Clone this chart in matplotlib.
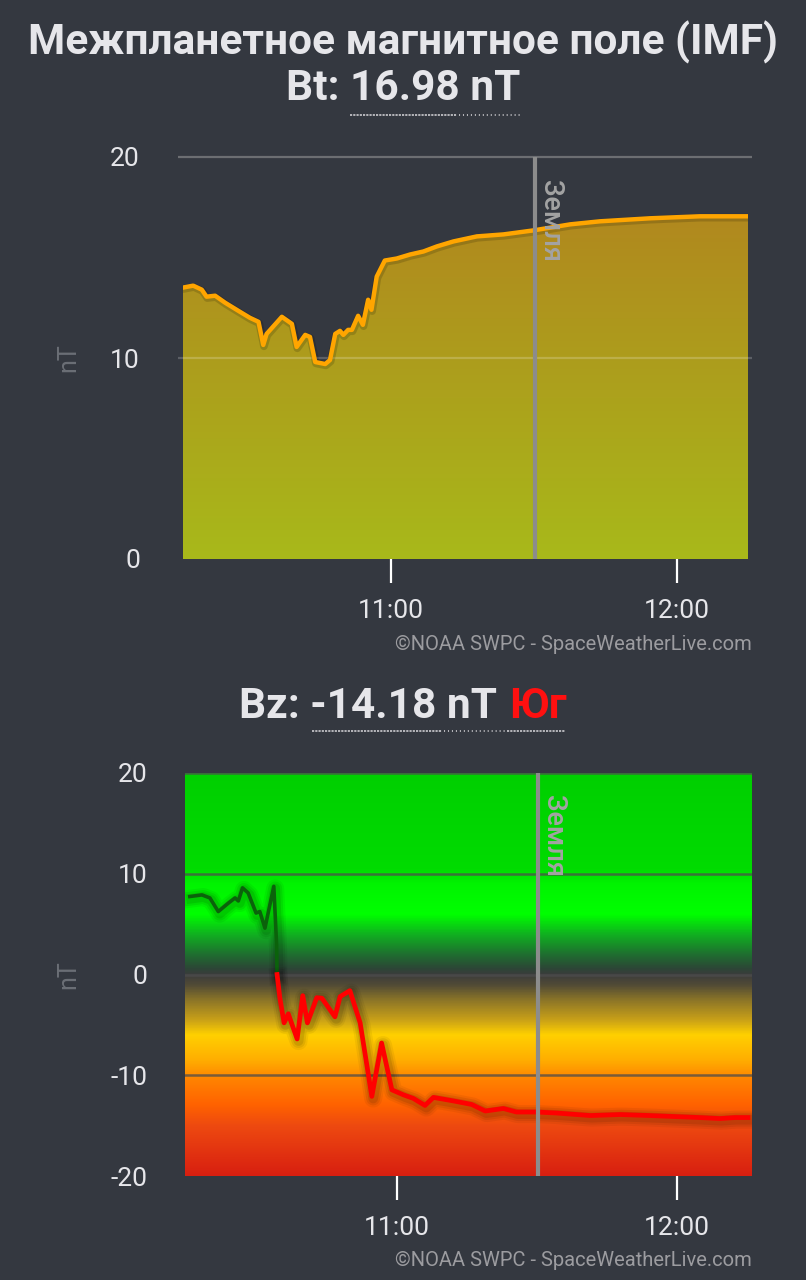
import numpy as np
import matplotlib
matplotlib.use("Agg")
import matplotlib.pyplot as plt
from matplotlib.colors import LinearSegmentedColormap
import matplotlib.patheffects as pe
from matplotlib.lines import Line2D

plt.rcParams['font.family'] = ['Roboto', 'DejaVu Sans']
plt.rcParams['axes.unicode_minus'] = False

# ---------------- data ----------------
# time in minutes after 10:00 UTC
bt_time = [16.3, 18.5, 20.3, 21.3, 23.1, 25.2, 28.3, 30.4, 32.2, 33.2, 33.9, 37.1,
           39.2, 40.2, 42.0, 43.0, 44.1, 46.2, 47.2, 48.3, 49.3, 50.0, 51.0, 51.8,
           53.1, 54.1, 55.2, 55.9, 57.0, 58.7, 61.2, 64.0, 66.8, 69.6, 73.1, 78.0,
           83.6, 89.9, 97.6, 103.8, 114.3, 124.8, 134.9]
bt_vals = [13.5, 13.6, 13.4, 13.05, 13.1, 12.75, 12.3, 12.0, 11.8, 10.65, 11.2, 12.05,
           11.7, 10.55, 11.15, 11.05, 9.8, 9.7, 9.9, 11.2, 11.35, 11.15, 11.4, 11.4,
           12.1, 11.65, 12.9, 12.4, 14.05, 14.85, 14.95, 15.15, 15.3, 15.55, 15.8, 16.05,
           16.15, 16.35, 16.65, 16.8, 16.95, 17.05, 17.05]

bz_time = [15.6, 18.2, 19.9, 21.7, 23.9, 25.3, 26.0, 26.9, 28.1, 29.8, 30.6, 31.7,
           33.6, 34.2, 34.3, 34.9, 35.8, 36.7, 38.6, 39.8, 40.8, 42.8, 43.9, 46.7,
           47.8, 49.9, 52.1, 54.6, 56.7, 58.9, 61.4, 63.5, 66.0, 67.8, 72.1, 76.0,
           78.9, 82.8, 85.6, 89.9, 94.2, 101.4, 107.8, 114.2, 124.9, 129.2, 132.4, 135.2]
bz_vals = [7.74, 7.9, 7.6, 6.25, 7.1, 7.6, 7.3, 8.6, 8.1, 6.1, 6.25, 4.6,
           8.75, 2.95, 0.0, -2.35, -4.8, -3.9, -6.4, -2.1, -4.8, -2.3, -2.35, -4.2,
           -2.2, -1.6, -4.8, -12.1, -6.8, -11.45, -11.95, -12.3, -13.0, -12.2, -12.55, -12.9,
           -13.55, -13.3, -13.65, -13.65, -13.75, -14.0, -13.9, -14.0, -14.2, -14.3, -14.2, -14.2]

earth_time = 90.2
xtick_pos = [60, 120]
xtick_labels = ['11:00', '12:00']
bt_yticks = [0, 10, 20]
bz_yticks = [-20, -10, 0, 10, 20]

title_main = 'Межпланетное магнитное поле (IMF)'
title_bt = 'Bt: 16.98 nT'
title_bz = 'Bz: -14.18 nT'
title_bz_dir = 'Юг'
earth_label = 'Земля'
y_unit = 'nT'
credit = '©NOAA SWPC - SpaceWeatherLive.com'

# ---------------- style ----------------
BG = '#343840'
W, H = 806, 1280
TXT = '#e6e6ea'

fig = plt.figure(figsize=(W / 100, H / 100), dpi=100, facecolor=BG)


def fx(px):
    return px / W


def fy(py):
    return 1 - py / H


ax1 = fig.add_axes([fx(183), fy(559), (748 - 183) / W, (559 - 157) / H])
ax2 = fig.add_axes([fx(185), fy(1176), (752 - 185) / W, (1176 - 773) / H])

for ax in (ax1, ax2):
    ax.set_facecolor(BG)
    for s in ax.spines.values():
        s.set_visible(False)
    ax.set_xticks(xtick_pos)
    ax.set_xticklabels(xtick_labels)
    ax.tick_params(axis='x', colors='white', length=17, width=1.6, pad=12,
                   labelsize=19, labelcolor=TXT)

# ---------------- top chart: Bt ----------------
x1lim = (16.36, 134.9)
bt_t = np.array(bt_time)
bt_v = np.array(bt_vals)
poly = ax1.fill_between(bt_t, bt_v, 0, color='none', lw=0)
bt_cmap = LinearSegmentedColormap.from_list('bt', ['#a8b91a', '#b2801f'])
grad = np.linspace(0, 1, 256).reshape(-1, 1)
im = ax1.imshow(grad, extent=[x1lim[0], x1lim[1], 0, 20], origin='lower',
                aspect='auto', cmap=bt_cmap, zorder=1)
im.set_clip_path(poly.get_paths()[0], transform=ax1.transData)
ax1.plot(bt_t, bt_v, color='#ffa500', lw=3.2, zorder=4, solid_capstyle='round',
         path_effects=[pe.Stroke(linewidth=5.5, foreground=(0, 0, 0, 0.15),
                                 offset=(0.5, -1)), pe.Normal()])
ax1.hlines([20], x1lim[0] - 1.05, x1lim[1] + 0.85, colors='#6c6e72', lw=1.6,
           clip_on=False, zorder=2)
ax1.hlines([10], x1lim[0] - 1.05, x1lim[1] + 0.85, colors=(1, 1, 1, 0.2), lw=1.6,
           clip_on=False, zorder=3)
ax1.axvline(earth_time, color='#8c8c8c', lw=3, zorder=5)
ax1.annotate(earth_label, xy=(earth_time, 20), xytext=(11, -16.5),
             textcoords='offset points', rotation=270, ha='center', va='top',
             fontsize=19.5, fontweight='medium', color='#a3a3a3', zorder=6)
ax1.set_xlim(*x1lim)
ax1.set_ylim(0, 20)
ax1.set_yticks(bt_yticks)
ax1.tick_params(axis='y', length=0, pad=31, labelsize=19, labelcolor=TXT)
ax1.set_ylabel(y_unit, color='#6b6f76', fontsize=18)
ax1.yaxis.set_label_coords((80 - 183) / 565, 0.5)

# ---------------- bottom chart: Bz ----------------
x2lim = (14.57, 136.07)
stops = [(-20, '#d81f10'), (-15, '#ee4a10'), (-13, '#ff6200'), (-10.5, '#ff8200'),
         (-8.5, '#ffae00'), (-6, '#ffd000'), (-4.5, '#c8a018'), (-2.5, '#8a7428'),
         (-1, '#504a36'), (0, '#3c3c3c'), (0.6, '#2c4636'), (2, '#1f6e30'),
         (4, '#10b020'), (6, '#00ff00'), (9, '#00f400'), (10.5, '#00dc00'),
         (20, '#00cf00')]
bz_cmap = LinearSegmentedColormap.from_list(
    'bz', [((v + 20) / 40, c) for v, c in stops])
grad2 = np.linspace(0, 1, 512).reshape(-1, 1)
ax2.imshow(grad2, extent=[x2lim[0], x2lim[1], -20, 20], origin='lower',
           aspect='auto', cmap=bz_cmap, zorder=0)
for yv in bz_yticks[1:]:
    ax2.axhline(yv, color=(0.3, 0.3, 0.3, 0.75), lw=1.8, zorder=1)
ax2.axvline(earth_time, color='#8c8c8c', lw=3, zorder=5)
ax2.annotate(earth_label, xy=(earth_time, 20), xytext=(11, -16),
             textcoords='offset points', rotation=270, ha='center', va='top',
             fontsize=19.5, fontweight='medium', color='#a3a3a3', zorder=6)

bz_t = np.array(bz_time)
bz_v = np.array(bz_vals)
pos = np.where(bz_v >= 0, bz_v, np.nan)
neg = np.where(bz_v <= 0, bz_v, np.nan)
glow = [pe.Stroke(linewidth=13, foreground=(0, 0, 0, 0.05), offset=(1, -1.5)),
        pe.Stroke(linewidth=10, foreground=(0, 0, 0, 0.07), offset=(1, -1.5)),
        pe.Stroke(linewidth=7, foreground=(0, 0, 0, 0.09), offset=(1, -1.5)),
        pe.Normal()]
ax2.plot(bz_t, pos, color='#0b620b', lw=2.6, zorder=4, path_effects=glow)
ax2.plot(bz_t, neg, color='#ff0000', lw=3.4, zorder=4, path_effects=glow)
ax2.set_xlim(*x2lim)
ax2.set_ylim(-20, 20)
ax2.set_yticks(bz_yticks)
ax2.tick_params(axis='y', length=0, pad=27, labelsize=19, labelcolor=TXT)
ax2.set_ylabel(y_unit, color='#6b6f76', fontsize=18)
ax2.yaxis.set_label_coords((80 - 185) / 567, 0.5)

# ---------------- titles & texts ----------------
fig.text(0.5, fy(42), title_main, ha='center', va='center', fontsize=30.5,
         fontweight='bold', color=TXT)
fig.text(fx(403.5), fy(88), title_bt, ha='center', va='center', fontsize=30.5,
         fontweight='bold', color=TXT)
fig.text(fx(497), fy(706), title_bz, ha='right', va='center', fontsize=30.5,
         fontweight='bold', color=TXT)
fig.text(fx(509), fy(706), title_bz_dir, ha='left', va='center', fontsize=30.5,
         fontweight='bold', color='#ff1010')


def dotted(x0, x1, y, dense=True):
    ls = (0, (1.2, 0.6)) if dense else (0, (0.6, 1.6))
    fig.add_artist(Line2D([fx(x0), fx(x1)], [fy(y), fy(y)], transform=fig.transFigure,
                          color='#c0c0c4', lw=1.3, linestyle=ls))


dotted(350, 455, 115, True)
dotted(455, 520, 115, False)
dotted(312, 440, 731, True)
dotted(440, 507, 731, False)
dotted(507, 565, 731, True)

fig.text(fx(752), fy(644), credit, ha='right', va='center', fontsize=14.5,
         color='#9c9ca0')
fig.text(fx(752), fy(1260), credit, ha='right', va='center', fontsize=14.5,
         color='#9c9ca0')

fig.savefig('out.png', dpi=100, facecolor=BG)
